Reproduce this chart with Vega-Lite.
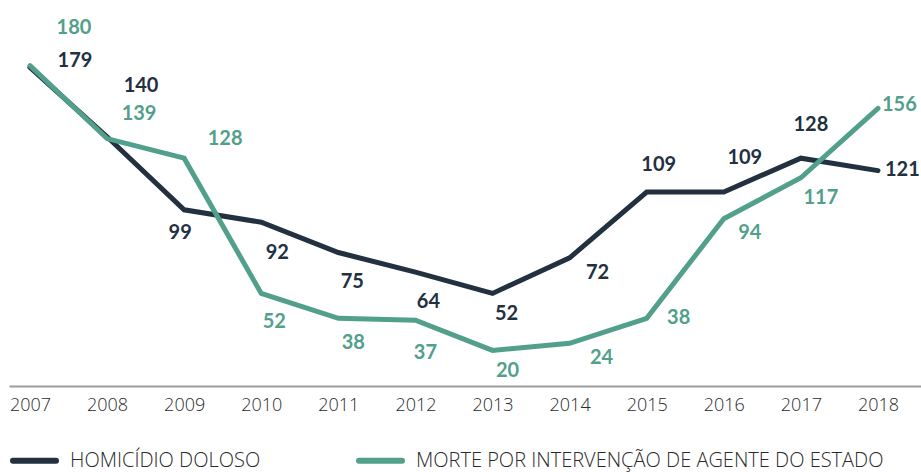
{
  "$schema": "https://vega.github.io/schema/vega-lite/v6.json",
  "width": 912,
  "height": 356,
  "autosize": {"type": "none"},
  "padding": {"left": 9, "top": 30, "right": 0, "bottom": 86},
  "background": "white",
  "config": {
    "view": {"stroke": null},
    "text": {"font": "Lato", "fontWeight": "bold", "fontSize": 20, "baseline": "middle", "align": "center"},
    "axisX": {"domainColor": "#9d9d9d", "domainWidth": 2, "ticks": false, "grid": false, "labelFont": "Open Sans", "labelFontWeight": 300, "labelFontSize": 18, "labelColor": "#2a2a2a", "labelPadding": 10, "title": null, "format": "d"}
  },
  "data": {"values": [
    {"year": 2007, "series": "HOMICÍDIO DOLOSO", "value": 179},
    {"year": 2008, "series": "HOMICÍDIO DOLOSO", "value": 140},
    {"year": 2009, "series": "HOMICÍDIO DOLOSO", "value": 99},
    {"year": 2010, "series": "HOMICÍDIO DOLOSO", "value": 92},
    {"year": 2011, "series": "HOMICÍDIO DOLOSO", "value": 75},
    {"year": 2012, "series": "HOMICÍDIO DOLOSO", "value": 64},
    {"year": 2013, "series": "HOMICÍDIO DOLOSO", "value": 52},
    {"year": 2014, "series": "HOMICÍDIO DOLOSO", "value": 72},
    {"year": 2015, "series": "HOMICÍDIO DOLOSO", "value": 109},
    {"year": 2016, "series": "HOMICÍDIO DOLOSO", "value": 109},
    {"year": 2017, "series": "HOMICÍDIO DOLOSO", "value": 128},
    {"year": 2018, "series": "HOMICÍDIO DOLOSO", "value": 121},
    {"year": 2007, "series": "MORTE POR INTERVENÇÃO DE AGENTE DO ESTADO", "value": 180},
    {"year": 2008, "series": "MORTE POR INTERVENÇÃO DE AGENTE DO ESTADO", "value": 139},
    {"year": 2009, "series": "MORTE POR INTERVENÇÃO DE AGENTE DO ESTADO", "value": 128},
    {"year": 2010, "series": "MORTE POR INTERVENÇÃO DE AGENTE DO ESTADO", "value": 52},
    {"year": 2011, "series": "MORTE POR INTERVENÇÃO DE AGENTE DO ESTADO", "value": 38},
    {"year": 2012, "series": "MORTE POR INTERVENÇÃO DE AGENTE DO ESTADO", "value": 37},
    {"year": 2013, "series": "MORTE POR INTERVENÇÃO DE AGENTE DO ESTADO", "value": 20},
    {"year": 2014, "series": "MORTE POR INTERVENÇÃO DE AGENTE DO ESTADO", "value": 24},
    {"year": 2015, "series": "MORTE POR INTERVENÇÃO DE AGENTE DO ESTADO", "value": 38},
    {"year": 2016, "series": "MORTE POR INTERVENÇÃO DE AGENTE DO ESTADO", "value": 94},
    {"year": 2017, "series": "MORTE POR INTERVENÇÃO DE AGENTE DO ESTADO", "value": 117},
    {"year": 2018, "series": "MORTE POR INTERVENÇÃO DE AGENTE DO ESTADO", "value": 156}
  ]},
  "encoding": {
    "x": {"field": "year", "type": "quantitative", "scale": {"domain": [2006.728, 2018.558], "nice": false, "zero": false}, "axis": {"values": [2007, 2008, 2009, 2010, 2011, 2012, 2013, 2014, 2015, 2016, 2017, 2018]}},
    "y": {"field": "value", "type": "quantitative", "scale": {"domain": [0, 200], "nice": false}, "axis": null}
  },
  "layer": [
    {
      "mark": {"type": "line", "strokeWidth": 5, "strokeCap": "round", "strokeJoin": "miter"},
      "encoding": {
        "color": {"field": "series", "type": "nominal",
          "scale": {"domain": ["HOMICÍDIO DOLOSO", "MORTE POR INTERVENÇÃO DE AGENTE DO ESTADO"], "range": ["#22303f", "#52a08b"]},
          "legend": {"orient": "none", "legendX": 1, "legendY": 406, "direction": "horizontal", "title": null, "symbolType": "stroke", "symbolSize": 1849, "symbolStrokeWidth": 6, "labelFont": "Open Sans", "labelFontWeight": 300, "labelFontSize": 20, "labelColor": "#2a2a2a", "labelLimit": 0, "columnPadding": 86, "labelOffset": 11, "encode": {"symbols": {"update": {"strokeCap": {"value": "round"}}}}}
        }
      }
    },
    {"transform": [{"filter": "datum.series=='HOMICÍDIO DOLOSO' && datum.year==2007"}], "mark": {"type": "text", "dx": 45, "dy": -6, "color": "#22303f"}, "encoding": {"text": {"field": "value"}}},
    {"transform": [{"filter": "datum.series=='HOMICÍDIO DOLOSO' && datum.year==2008"}], "mark": {"type": "text", "dx": 34, "dy": -51, "color": "#22303f"}, "encoding": {"text": {"field": "value"}}},
    {"transform": [{"filter": "datum.series=='HOMICÍDIO DOLOSO' && datum.year==2009"}], "mark": {"type": "text", "dx": -4, "dy": 23, "color": "#22303f"}, "encoding": {"text": {"field": "value"}}},
    {"transform": [{"filter": "datum.series=='HOMICÍDIO DOLOSO' && datum.year==2010"}], "mark": {"type": "text", "dx": 16, "dy": 31, "color": "#22303f"}, "encoding": {"text": {"field": "value"}}},
    {"transform": [{"filter": "datum.series=='HOMICÍDIO DOLOSO' && datum.year==2011"}], "mark": {"type": "text", "dx": 14, "dy": 29, "color": "#22303f"}, "encoding": {"text": {"field": "value"}}},
    {"transform": [{"filter": "datum.series=='HOMICÍDIO DOLOSO' && datum.year==2012"}], "mark": {"type": "text", "dx": 13, "dy": 30, "color": "#22303f"}, "encoding": {"text": {"field": "value"}}},
    {"transform": [{"filter": "datum.series=='HOMICÍDIO DOLOSO' && datum.year==2013"}], "mark": {"type": "text", "dx": 14, "dy": 21, "color": "#22303f"}, "encoding": {"text": {"field": "value"}}},
    {"transform": [{"filter": "datum.series=='HOMICÍDIO DOLOSO' && datum.year==2014"}], "mark": {"type": "text", "dx": 28, "dy": 15, "color": "#22303f"}, "encoding": {"text": {"field": "value"}}},
    {"transform": [{"filter": "datum.series=='HOMICÍDIO DOLOSO' && datum.year==2015"}], "mark": {"type": "text", "dx": 12, "dy": -27, "color": "#22303f"}, "encoding": {"text": {"field": "value"}}},
    {"transform": [{"filter": "datum.series=='HOMICÍDIO DOLOSO' && datum.year==2016"}], "mark": {"type": "text", "dx": 21, "dy": -34, "color": "#22303f"}, "encoding": {"text": {"field": "value"}}},
    {"transform": [{"filter": "datum.series=='HOMICÍDIO DOLOSO' && datum.year==2017"}], "mark": {"type": "text", "dx": 10, "dy": -33, "color": "#22303f"}, "encoding": {"text": {"field": "value"}}},
    {"transform": [{"filter": "datum.series=='HOMICÍDIO DOLOSO' && datum.year==2018"}], "mark": {"type": "text", "dx": 7, "dy": -1, "align": "left", "color": "#22303f"}, "encoding": {"text": {"field": "value"}}},
    {"transform": [{"filter": "datum.series!='HOMICÍDIO DOLOSO' && datum.year==2007"}], "mark": {"type": "text", "dx": 44, "dy": -38, "color": "#52a08b"}, "encoding": {"text": {"field": "value"}}},
    {"transform": [{"filter": "datum.series!='HOMICÍDIO DOLOSO' && datum.year==2008"}], "mark": {"type": "text", "dx": 32, "dy": -25, "color": "#52a08b"}, "encoding": {"text": {"field": "value"}}},
    {"transform": [{"filter": "datum.series!='HOMICÍDIO DOLOSO' && datum.year==2009"}], "mark": {"type": "text", "dx": 41, "dy": -19, "color": "#52a08b"}, "encoding": {"text": {"field": "value"}}},
    {"transform": [{"filter": "datum.series!='HOMICÍDIO DOLOSO' && datum.year==2010"}], "mark": {"type": "text", "dx": 13, "dy": 29, "color": "#52a08b"}, "encoding": {"text": {"field": "value"}}},
    {"transform": [{"filter": "datum.series!='HOMICÍDIO DOLOSO' && datum.year==2011"}], "mark": {"type": "text", "dx": 15, "dy": 25, "color": "#52a08b"}, "encoding": {"text": {"field": "value"}}},
    {"transform": [{"filter": "datum.series!='HOMICÍDIO DOLOSO' && datum.year==2012"}], "mark": {"type": "text", "dx": 10, "dy": 33, "color": "#52a08b"}, "encoding": {"text": {"field": "value"}}},
    {"transform": [{"filter": "datum.series!='HOMICÍDIO DOLOSO' && datum.year==2013"}], "mark": {"type": "text", "dx": 15, "dy": 21, "color": "#52a08b"}, "encoding": {"text": {"field": "value"}}},
    {"transform": [{"filter": "datum.series!='HOMICÍDIO DOLOSO' && datum.year==2014"}], "mark": {"type": "text", "dx": 32, "dy": 15, "color": "#52a08b"}, "encoding": {"text": {"field": "value"}}},
    {"transform": [{"filter": "datum.series!='HOMICÍDIO DOLOSO' && datum.year==2015"}], "mark": {"type": "text", "dx": 32, "dy": 0, "color": "#52a08b"}, "encoding": {"text": {"field": "value"}}},
    {"transform": [{"filter": "datum.series!='HOMICÍDIO DOLOSO' && datum.year==2016"}], "mark": {"type": "text", "dx": 26, "dy": 14, "color": "#52a08b"}, "encoding": {"text": {"field": "value"}}},
    {"transform": [{"filter": "datum.series!='HOMICÍDIO DOLOSO' && datum.year==2017"}], "mark": {"type": "text", "dx": 20, "dy": 20, "color": "#52a08b"}, "encoding": {"text": {"field": "value"}}},
    {"transform": [{"filter": "datum.series!='HOMICÍDIO DOLOSO' && datum.year==2018"}], "mark": {"type": "text", "dx": 4, "dy": -3, "align": "left", "color": "#52a08b"}, "encoding": {"text": {"field": "value"}}}
  ]
}
